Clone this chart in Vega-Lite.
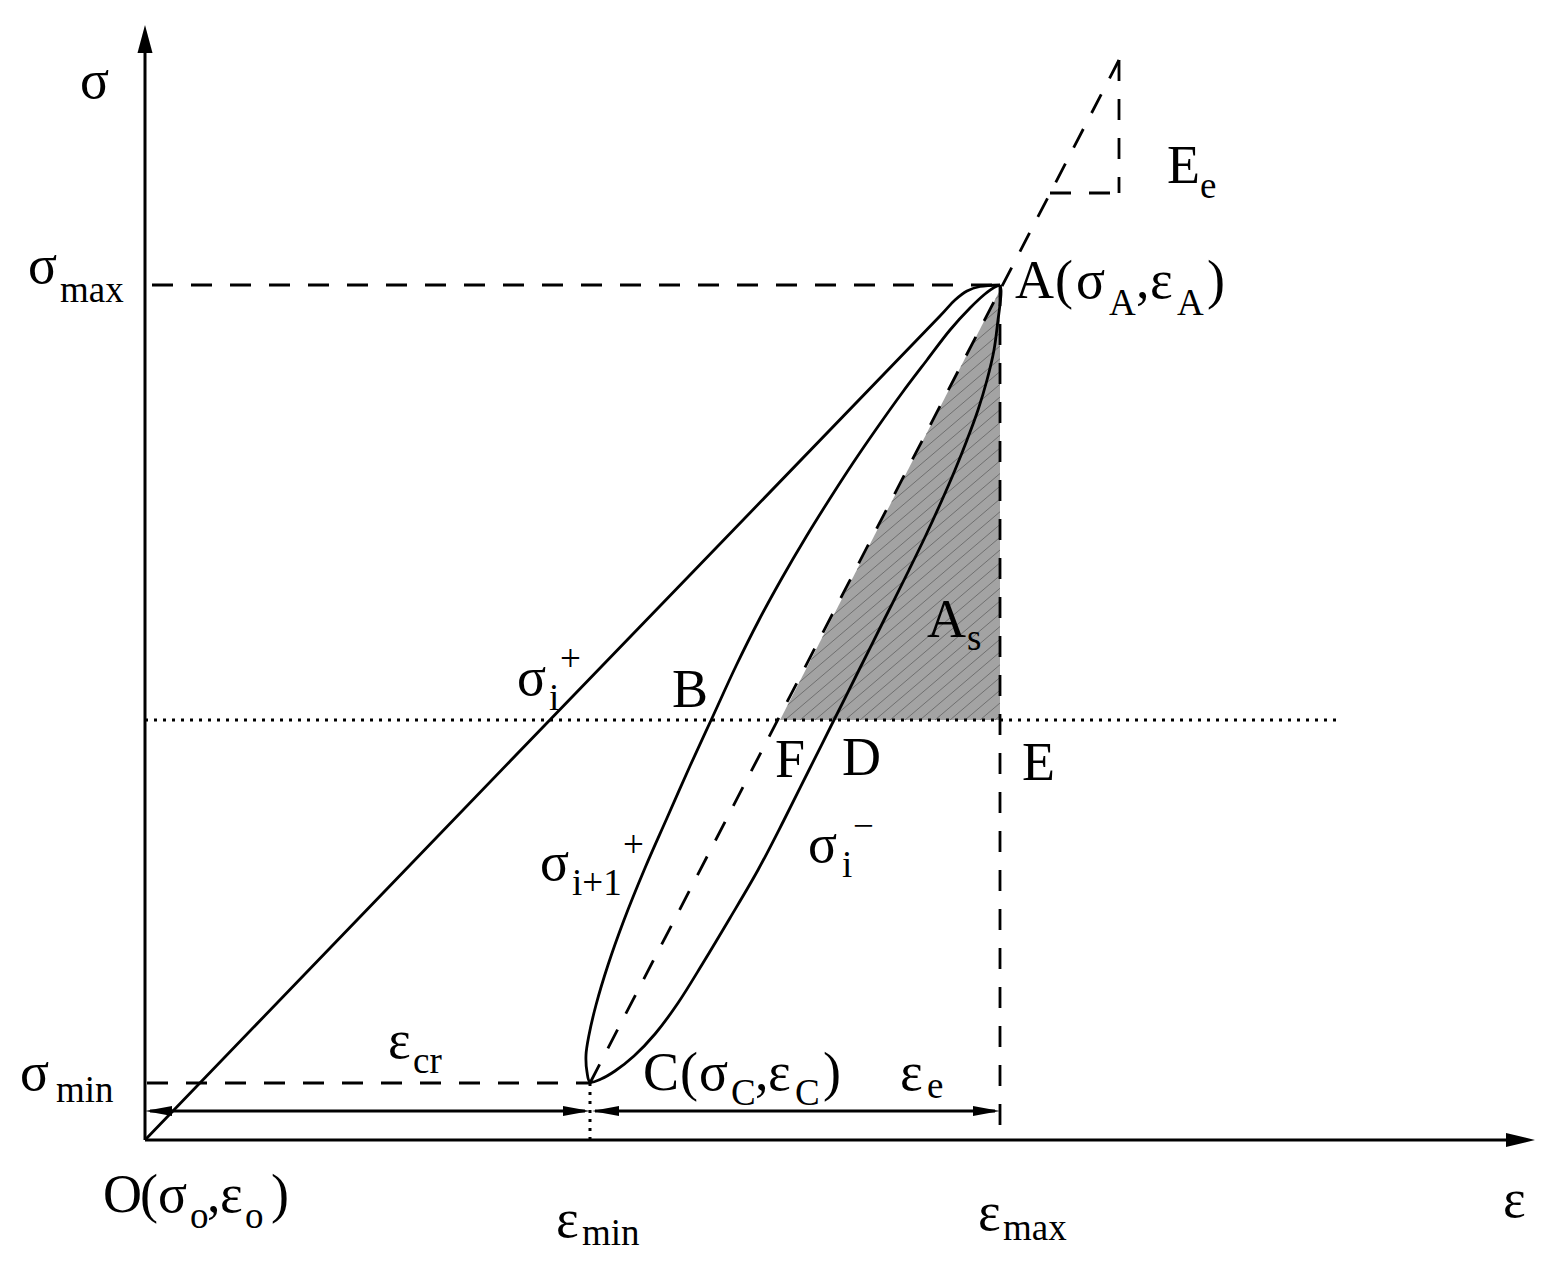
{
  "$schema": "https://vega.github.io/schema/vega-lite/v6.json",
  "width": 1551,
  "height": 1266,
  "padding": 0,
  "autosize": {"type": "fit", "contains": "padding"},
  "background": "white",
  "config": {"view": {"stroke": null}},
  "datasets": {
    "shade": [
      {"x": 635, "y": 420, "y2": 420},
      {"x": 855, "y": 850, "y2": 420}
    ],
    "hatch": [
      {"x": 850, "y": 420, "x2": 855, "y2": 424.25},
      {"x": 835, "y": 420, "x2": 855, "y2": 437},
      {"x": 820, "y": 420, "x2": 855, "y2": 449.75},
      {"x": 805, "y": 420, "x2": 855, "y2": 462.5},
      {"x": 790, "y": 420, "x2": 855, "y2": 475.25},
      {"x": 775, "y": 420, "x2": 855, "y2": 488},
      {"x": 760, "y": 420, "x2": 855, "y2": 500.75},
      {"x": 745, "y": 420, "x2": 855, "y2": 513.5},
      {"x": 730, "y": 420, "x2": 855, "y2": 526.25},
      {"x": 715, "y": 420, "x2": 855, "y2": 539},
      {"x": 700, "y": 420, "x2": 855, "y2": 551.75},
      {"x": 685, "y": 420, "x2": 855, "y2": 564.5},
      {"x": 670, "y": 420, "x2": 855, "y2": 577.25},
      {"x": 655, "y": 420, "x2": 855, "y2": 590},
      {"x": 640, "y": 420, "x2": 855, "y2": 602.75},
      {"x": 642.7, "y": 435, "x2": 855, "y2": 615.5},
      {"x": 654.2, "y": 457.6, "x2": 855, "y2": 628.25},
      {"x": 665.8, "y": 480.2, "x2": 855, "y2": 641},
      {"x": 677.3, "y": 502.7, "x2": 855, "y2": 653.75},
      {"x": 688.9, "y": 525.3, "x2": 855, "y2": 666.5},
      {"x": 700.4, "y": 547.9, "x2": 855, "y2": 679.25},
      {"x": 712, "y": 570.4, "x2": 855, "y2": 692},
      {"x": 723.5, "y": 593, "x2": 855, "y2": 704.75},
      {"x": 735, "y": 615.5, "x2": 855, "y2": 717.5},
      {"x": 746.6, "y": 638.1, "x2": 855, "y2": 730.25},
      {"x": 758.1, "y": 660.6, "x2": 855, "y2": 743},
      {"x": 769.7, "y": 683.2, "x2": 855, "y2": 755.75},
      {"x": 781.2, "y": 705.8, "x2": 855, "y2": 768.5},
      {"x": 792.8, "y": 728.3, "x2": 855, "y2": 781.25},
      {"x": 804.3, "y": 750.9, "x2": 855, "y2": 794},
      {"x": 815.8, "y": 773.5, "x2": 855, "y2": 806.75},
      {"x": 827.4, "y": 796, "x2": 855, "y2": 819.5},
      {"x": 838.9, "y": 818.6, "x2": 855, "y2": 832.25},
      {"x": 850.5, "y": 841.1, "x2": 855, "y2": 845}
    ],
    "segs": [
      {"kind": "axis", "x": 0, "y": 0, "x2": 0, "y2": 1090},
      {"kind": "axis", "x": 0, "y": 0, "x2": 1365, "y2": 0},
      {"kind": "dim", "x": 5, "y": 29, "x2": 440, "y2": 29},
      {"kind": "dim", "x": 450, "y": 29, "x2": 850, "y2": 29},
      {"kind": "guide", "x": 7, "y": 855, "x2": 855, "y2": 855},
      {"kind": "guide", "x": 2, "y": 57, "x2": 445, "y2": 57},
      {"kind": "guide", "x": 855, "y": 855, "x2": 855, "y2": 0},
      {"kind": "guide", "x": 445, "y": 57, "x2": 974, "y2": 1080},
      {"kind": "guide", "x": 974, "y": 1080, "x2": 974, "y2": 947},
      {"kind": "guide", "x": 905, "y": 947, "x2": 974, "y2": 947},
      {"kind": "level", "x": 0, "y": 420, "x2": 1195, "y2": 420},
      {"kind": "level", "x": 445, "y": 57, "x2": 445, "y2": 0}
    ],
    "curves": [
      {"curve": "outer", "ord": 0, "x": 0, "y": 0},
      {"curve": "outer", "ord": 1, "x": 400, "y": 415},
      {"curve": "outer", "ord": 2, "x": 795, "y": 824},
      {"curve": "outer", "ord": 3, "x": 810, "y": 840},
      {"curve": "outer", "ord": 4, "x": 822, "y": 849},
      {"curve": "outer", "ord": 5, "x": 835, "y": 853.5},
      {"curve": "outer", "ord": 6, "x": 855, "y": 855},
      {"curve": "loop", "ord": 0, "x": 855, "y": 855},
      {"curve": "loop", "ord": 1, "x": 856, "y": 850},
      {"curve": "loop", "ord": 2, "x": 855.5, "y": 840},
      {"curve": "loop", "ord": 3, "x": 853, "y": 820},
      {"curve": "loop", "ord": 4, "x": 849, "y": 790},
      {"curve": "loop", "ord": 5, "x": 842, "y": 760},
      {"curve": "loop", "ord": 6, "x": 833, "y": 730},
      {"curve": "loop", "ord": 7, "x": 822, "y": 700},
      {"curve": "loop", "ord": 8, "x": 810, "y": 670},
      {"curve": "loop", "ord": 9, "x": 797, "y": 640},
      {"curve": "loop", "ord": 10, "x": 781, "y": 605},
      {"curve": "loop", "ord": 11, "x": 764, "y": 570},
      {"curve": "loop", "ord": 12, "x": 739, "y": 520},
      {"curve": "loop", "ord": 13, "x": 714, "y": 470},
      {"curve": "loop", "ord": 14, "x": 689, "y": 420},
      {"curve": "loop", "ord": 15, "x": 664, "y": 370},
      {"curve": "loop", "ord": 16, "x": 639, "y": 320},
      {"curve": "loop", "ord": 17, "x": 613, "y": 270},
      {"curve": "loop", "ord": 18, "x": 585, "y": 222},
      {"curve": "loop", "ord": 19, "x": 558, "y": 177},
      {"curve": "loop", "ord": 20, "x": 533, "y": 137},
      {"curve": "loop", "ord": 21, "x": 510, "y": 106},
      {"curve": "loop", "ord": 22, "x": 489, "y": 84},
      {"curve": "loop", "ord": 23, "x": 470, "y": 69},
      {"curve": "loop", "ord": 24, "x": 456, "y": 61},
      {"curve": "loop", "ord": 25, "x": 445, "y": 58},
      {"curve": "loop", "ord": 26, "x": 442, "y": 68},
      {"curve": "loop", "ord": 27, "x": 441, "y": 85},
      {"curve": "loop", "ord": 28, "x": 444, "y": 105},
      {"curve": "loop", "ord": 29, "x": 451, "y": 135},
      {"curve": "loop", "ord": 30, "x": 463, "y": 175},
      {"curve": "loop", "ord": 31, "x": 479, "y": 220},
      {"curve": "loop", "ord": 32, "x": 500, "y": 272},
      {"curve": "loop", "ord": 33, "x": 522, "y": 322},
      {"curve": "loop", "ord": 34, "x": 545, "y": 374},
      {"curve": "loop", "ord": 35, "x": 568, "y": 424},
      {"curve": "loop", "ord": 36, "x": 591, "y": 474},
      {"curve": "loop", "ord": 37, "x": 614, "y": 520},
      {"curve": "loop", "ord": 38, "x": 637, "y": 562},
      {"curve": "loop", "ord": 39, "x": 661, "y": 603},
      {"curve": "loop", "ord": 40, "x": 684, "y": 640},
      {"curve": "loop", "ord": 41, "x": 708, "y": 677},
      {"curve": "loop", "ord": 42, "x": 732, "y": 712},
      {"curve": "loop", "ord": 43, "x": 757, "y": 747},
      {"curve": "loop", "ord": 44, "x": 782, "y": 780},
      {"curve": "loop", "ord": 45, "x": 805, "y": 810},
      {"curve": "loop", "ord": 46, "x": 825, "y": 832},
      {"curve": "loop", "ord": 47, "x": 840, "y": 846},
      {"curve": "loop", "ord": 48, "x": 849, "y": 852.5},
      {"curve": "loop", "ord": 49, "x": 855, "y": 855}
    ],
    "headsH": [
      {"id": "xaxis", "x": 1361, "y": 7, "y2": -7},
      {"id": "xaxis", "x": 1390, "y": 0, "y2": 0},
      {"id": "cr_left", "x": 27, "y": 34, "y2": 24},
      {"id": "cr_left", "x": 0, "y": 29, "y2": 29},
      {"id": "cr_right", "x": 418, "y": 34, "y2": 24},
      {"id": "cr_right", "x": 445, "y": 29, "y2": 29},
      {"id": "e_left", "x": 474, "y": 34, "y2": 24},
      {"id": "e_left", "x": 447, "y": 29, "y2": 29},
      {"id": "e_right", "x": 828, "y": 34, "y2": 24},
      {"id": "e_right", "x": 855, "y": 29, "y2": 29}
    ],
    "headsV": [
      {"id": "yaxis", "y": 1087, "x": -7.5, "x2": 7.5},
      {"id": "yaxis", "y": 1115, "x": 0, "x2": 0}
    ],
    "labels": [
      {"role": "main", "x": -65, "y": 1042, "t": "σ"},
      {"role": "main", "x": -117, "y": 857, "t": "σ"},
      {"role": "main", "x": -125, "y": 50, "t": "σ"},
      {"role": "main", "x": 243, "y": 82, "t": "ε"},
      {"role": "main", "x": -42, "y": -72, "t": "O"},
      {"role": "main", "x": -5, "y": -72, "t": "("},
      {"role": "main", "x": 13, "y": -72, "t": "σ"},
      {"role": "main", "x": 62, "y": -72, "t": ","},
      {"role": "main", "x": 75, "y": -72, "t": "ε"},
      {"role": "main", "x": 126, "y": -72, "t": ")"},
      {"role": "main", "x": 411, "y": -97, "t": "ε"},
      {"role": "main", "x": 833, "y": -90, "t": "ε"},
      {"role": "main", "x": 1358, "y": -77, "t": "ε"},
      {"role": "main", "x": 498, "y": 50, "t": "C"},
      {"role": "main", "x": 535, "y": 50, "t": "("},
      {"role": "main", "x": 554, "y": 50, "t": "σ"},
      {"role": "main", "x": 610, "y": 50, "t": ","},
      {"role": "main", "x": 623, "y": 50, "t": "ε"},
      {"role": "main", "x": 678, "y": 50, "t": ")"},
      {"role": "main", "x": 755, "y": 50, "t": "ε"},
      {"role": "main", "x": 870, "y": 842, "t": "A"},
      {"role": "main", "x": 910, "y": 842, "t": "("},
      {"role": "main", "x": 931, "y": 842, "t": "σ"},
      {"role": "main", "x": 991, "y": 842, "t": ","},
      {"role": "main", "x": 1005, "y": 842, "t": "ε"},
      {"role": "main", "x": 1062, "y": 842, "t": ")"},
      {"role": "main", "x": 1022, "y": 957, "t": "E"},
      {"role": "main", "x": 782, "y": 503, "t": "A"},
      {"role": "main", "x": 372, "y": 445, "t": "σ"},
      {"role": "main", "x": 527, "y": 433, "t": "B"},
      {"role": "main", "x": 630, "y": 363, "t": "F"},
      {"role": "main", "x": 697, "y": 365, "t": "D"},
      {"role": "main", "x": 877, "y": 360, "t": "E"},
      {"role": "main", "x": 395, "y": 260, "t": "σ"},
      {"role": "main", "x": 663, "y": 278, "t": "σ"},
      {"role": "sub", "x": -85, "y": 838, "t": "max"},
      {"role": "sub", "x": -89, "y": 38, "t": "min"},
      {"role": "sub", "x": 268, "y": 67, "t": "cr"},
      {"role": "sub", "x": 45, "y": -88, "t": "o"},
      {"role": "sub", "x": 100, "y": -88, "t": "o"},
      {"role": "sub", "x": 437, "y": -105, "t": "min"},
      {"role": "sub", "x": 858, "y": -100, "t": "max"},
      {"role": "sub", "x": 586, "y": 35, "t": "C"},
      {"role": "sub", "x": 650, "y": 35, "t": "C"},
      {"role": "sub", "x": 782, "y": 42, "t": "e"},
      {"role": "sub", "x": 964, "y": 825, "t": "A"},
      {"role": "sub", "x": 1032, "y": 825, "t": "A"},
      {"role": "sub", "x": 1055, "y": 942, "t": "e"},
      {"role": "sub", "x": 822, "y": 490, "t": "s"},
      {"role": "sub", "x": 404, "y": 430, "t": "i"},
      {"role": "sub", "x": 415, "y": 469, "t": "+"},
      {"role": "sub", "x": 427, "y": 245, "t": "i+1"},
      {"role": "sub", "x": 478, "y": 283, "t": "+"},
      {"role": "sub", "x": 697, "y": 263, "t": "i"},
      {"role": "sub", "x": 708, "y": 302, "t": "−"}
    ]
  },
  "encoding": {
    "x": {"field": "x", "type": "quantitative", "scale": {"domain": [-145, 1406], "nice": false, "zero": false}, "axis": null},
    "y": {"field": "y", "type": "quantitative", "scale": {"domain": [-126, 1140], "nice": false, "zero": false}, "axis": null}
  },
  "layer": [
    {
      "data": {"name": "shade"},
      "mark": {"type": "area", "orient": "vertical", "color": "#a3a3a3", "opacity": 1},
      "encoding": {"y2": {"field": "y2"}}
    },
    {
      "data": {"name": "hatch"},
      "mark": {"type": "rule", "color": "#707070", "strokeWidth": 1},
      "encoding": {"x2": {"field": "x2"}, "y2": {"field": "y2"}}
    },
    {
      "data": {"name": "segs"},
      "transform": [{"filter": "datum.kind === 'level'"}],
      "mark": {"type": "rule", "color": "black", "strokeWidth": 3, "strokeDash": [3, 6]},
      "encoding": {"x2": {"field": "x2"}, "y2": {"field": "y2"}}
    },
    {
      "data": {"name": "segs"},
      "transform": [{"filter": "datum.kind === 'guide'"}],
      "mark": {"type": "rule", "color": "black", "strokeWidth": 2.8, "strokeDash": [21, 18]},
      "encoding": {"x2": {"field": "x2"}, "y2": {"field": "y2"}}
    },
    {
      "data": {"name": "segs"},
      "transform": [{"filter": "datum.kind === 'axis' || datum.kind === 'dim'"}],
      "mark": {"type": "rule", "color": "black", "strokeWidth": 3},
      "encoding": {"x2": {"field": "x2"}, "y2": {"field": "y2"}}
    },
    {
      "data": {"name": "curves"},
      "mark": {"type": "line", "color": "black", "strokeWidth": 2.8, "interpolate": "catmull-rom"},
      "encoding": {"detail": {"field": "curve"}, "order": {"field": "ord", "type": "quantitative"}}
    },
    {
      "data": {"name": "headsH"},
      "mark": {"type": "area", "orient": "vertical", "color": "black", "opacity": 1},
      "encoding": {"y2": {"field": "y2"}, "detail": {"field": "id"}}
    },
    {
      "data": {"name": "headsV"},
      "mark": {"type": "area", "orient": "horizontal", "color": "black", "opacity": 1},
      "encoding": {"x2": {"field": "x2"}, "detail": {"field": "id"}}
    },
    {
      "data": {"name": "labels"},
      "transform": [{"filter": "datum.role === 'main'"}],
      "mark": {"type": "text", "font": "Liberation Serif", "fontSize": 54, "align": "left", "baseline": "alphabetic", "color": "black"},
      "encoding": {"text": {"field": "t"}}
    },
    {
      "data": {"name": "labels"},
      "transform": [{"filter": "datum.role === 'sub'"}],
      "mark": {"type": "text", "font": "Liberation Serif", "fontSize": 37, "align": "left", "baseline": "alphabetic", "color": "black"},
      "encoding": {"text": {"field": "t"}}
    }
  ]
}
